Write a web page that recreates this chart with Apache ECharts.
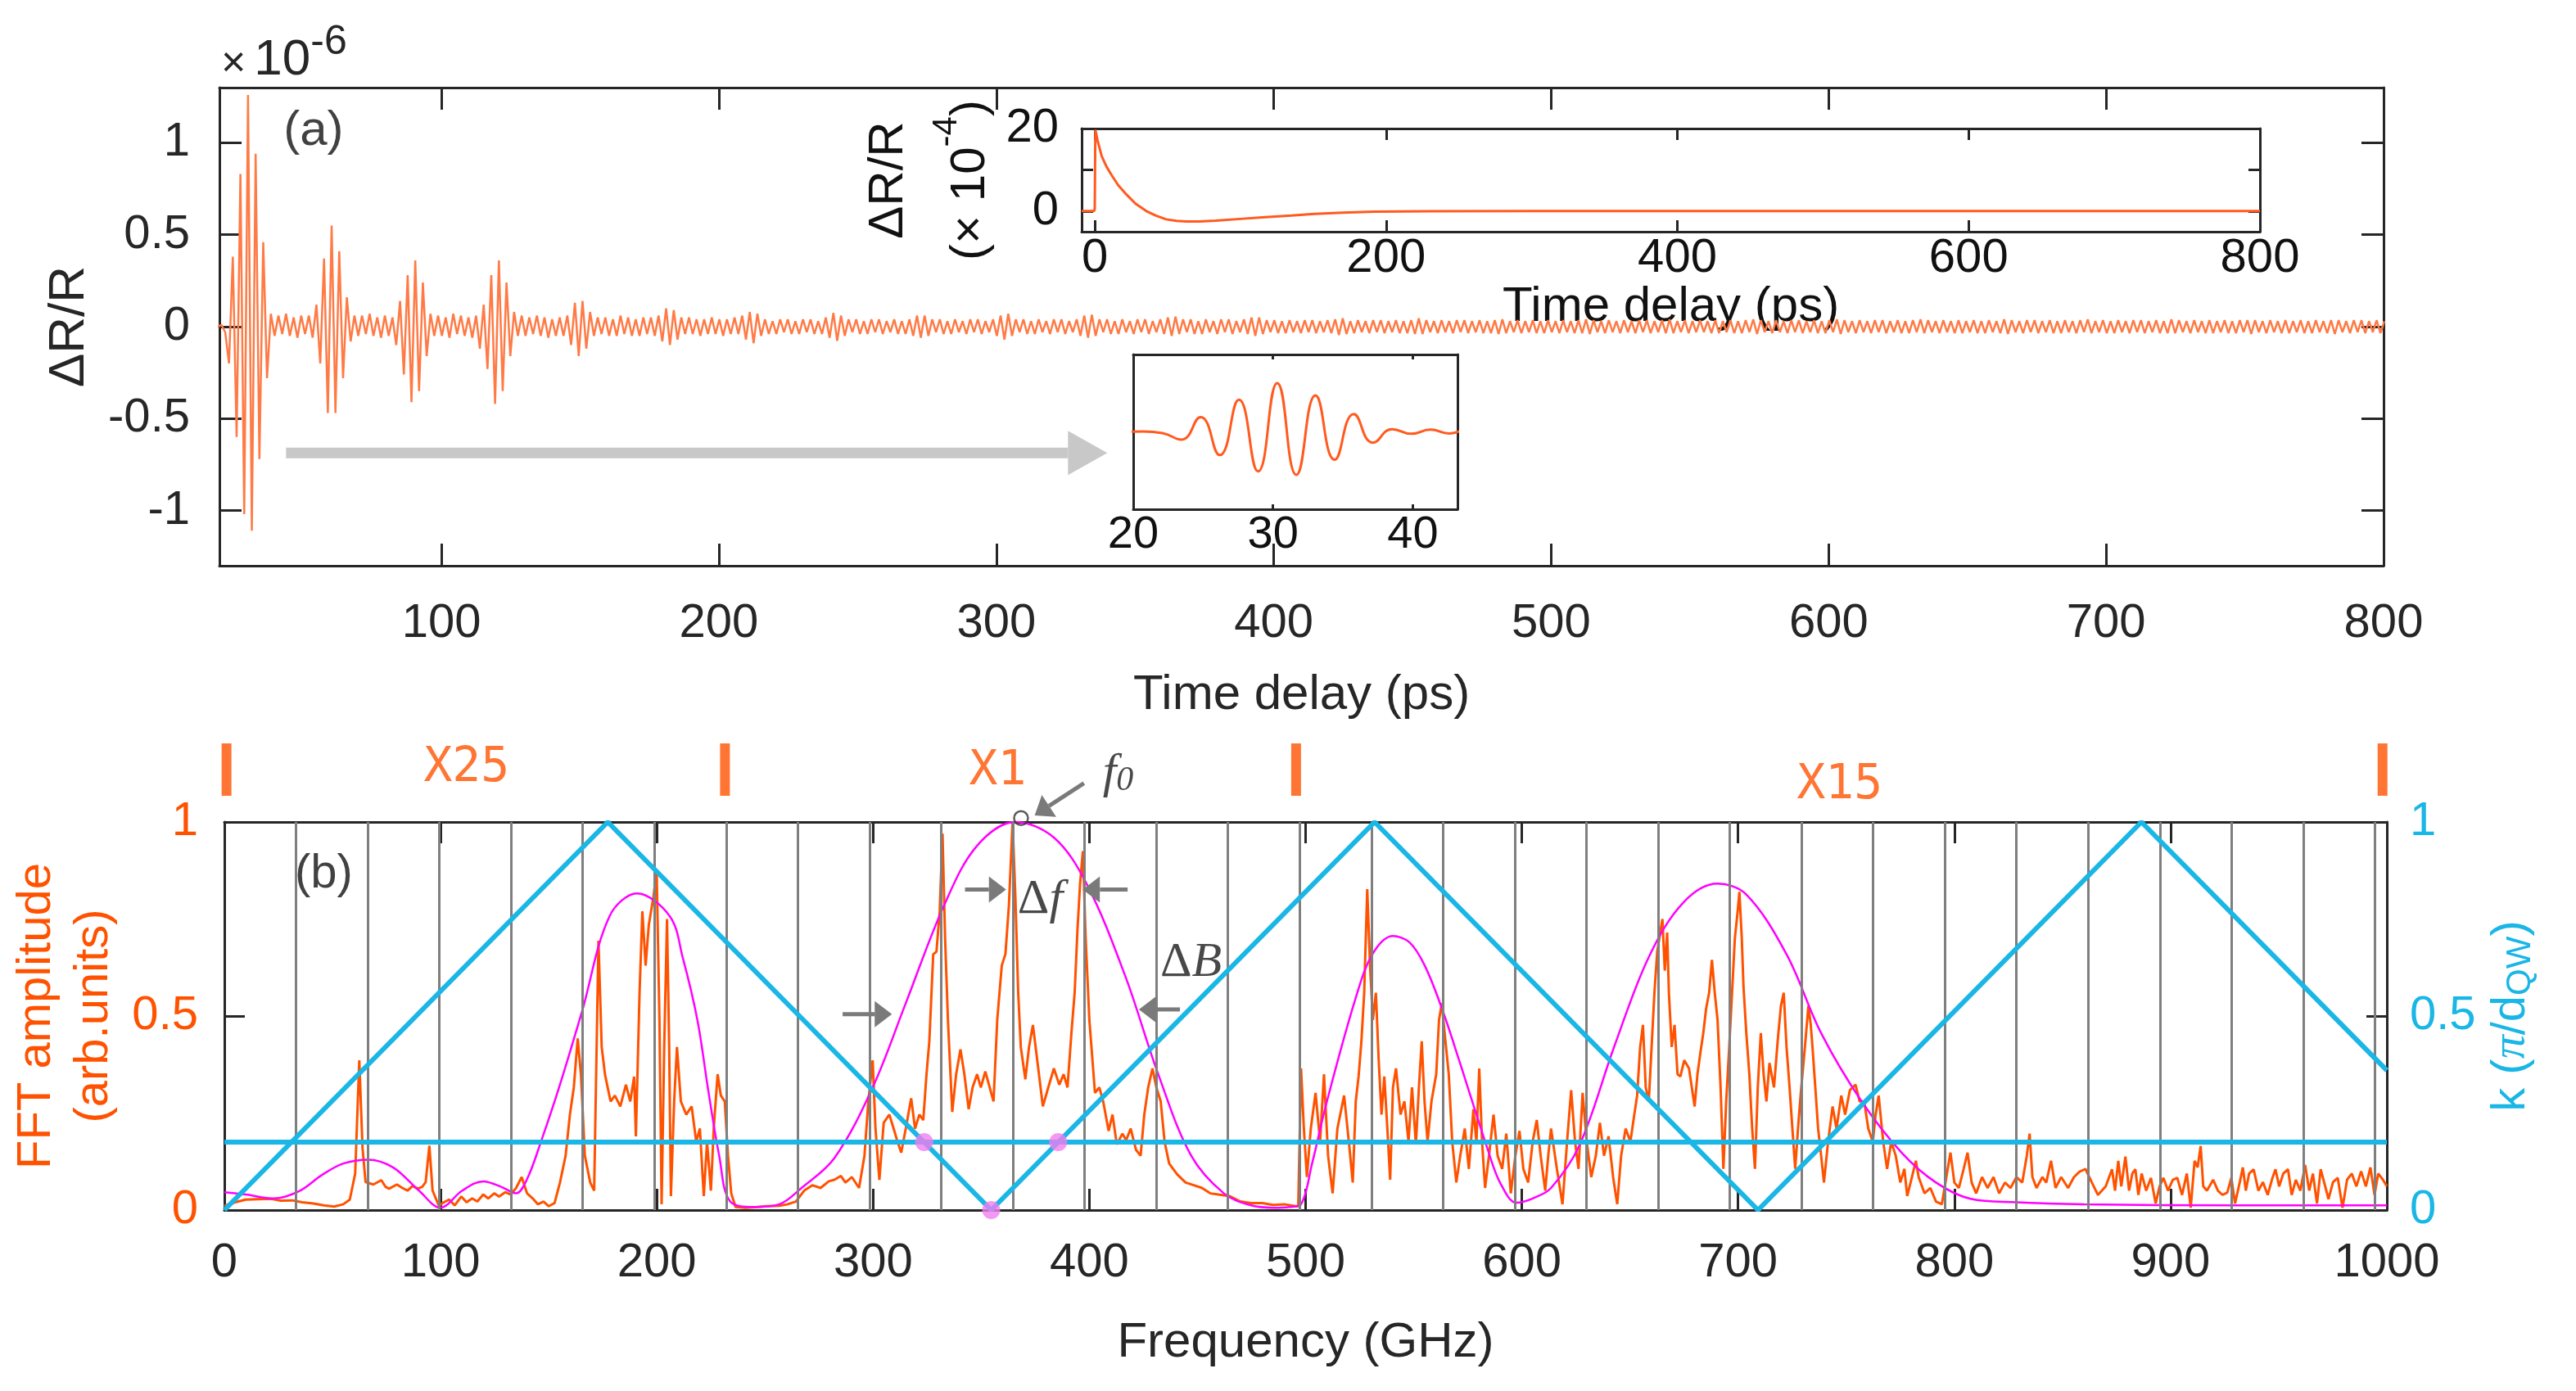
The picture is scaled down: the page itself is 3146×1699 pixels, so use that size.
<!DOCTYPE html>
<html>
<head>
<meta charset="utf-8">
<title>Pump-probe trace and FFT</title>
<script src="https://cdn.jsdelivr.net/npm/echarts@6.0.0/dist/echarts.min.js"></script>
<style>
html, body { margin: 0; padding: 0; background: #fff; }
#content { width: 3146px; height: 1699px; }
</style>
</head>
<body>
<div id="content"></div>
<script>
// ---------- data ----------

// panel (a): dR/R (x1e-6), one value per half period of the oscillation
var traceStart = 19.34; // ps
var traceStep = 1.37;   // ps
var traceVals = [
    0, 0.01, -0.03, -0.2, 0.38, -0.6, 0.83, -1.02, 1.26, -1.11,
    0.94, -0.72, 0.46, -0.28, 0.07, -0.05, 0.06, -0.04, 0.07, -0.05,
    0.05, -0.06, 0.06, -0.04, 0.06, -0.06, 0.12, -0.2, 0.37, -0.47,
    0.55, -0.47, 0.41, -0.28, 0.16, -0.08, 0.06, -0.05, 0.06, -0.04,
    0.07, -0.05, 0.05, -0.06, 0.06, -0.05, 0.05, -0.1, 0.14, -0.26,
    0.28, -0.41, 0.36, -0.35, 0.24, -0.16, 0.07, -0.05, 0.06, -0.05,
    0.05, -0.06, 0.07, -0.04, 0.06, -0.05, 0.05, -0.06, 0.06, -0.12,
    0.12, -0.23, 0.28, -0.42, 0.36, -0.35, 0.24, -0.16, 0.08, -0.05,
    0.06, -0.05, 0.05, -0.04, 0.06, -0.05, 0.05, -0.06, 0.04, -0.05,
    0.05, -0.05, 0.06, -0.1, 0.13, -0.16, 0.14, -0.12, 0.08, -0.05,
    0.05, -0.04, 0.05, -0.05, 0.04, -0.05, 0.06, -0.04, 0.05, -0.05,
    0.04, -0.05, 0.05, -0.04, 0.05, -0.05, 0.06, -0.08, 0.1, -0.1,
    0.09, -0.07, 0.05, -0.04, 0.05, -0.04, 0.04, -0.05, 0.04, -0.04,
    0.05, -0.04, 0.04, -0.05, 0.04, -0.04, 0.05, -0.04, 0.06, -0.07,
    0.08, -0.09, 0.07, -0.05, 0.04, -0.04, 0.03, -0.04, 0.04, -0.03,
    0.04, -0.04, 0.03, -0.04, 0.04, -0.03, 0.04, -0.04, 0.03, -0.04,
    0.05, -0.06, 0.075, -0.077, 0.06, -0.05, 0.04, -0.03, 0.04, -0.04,
    0.03, -0.04, 0.04, -0.03, 0.04, -0.04, 0.03, -0.03, 0.04, -0.04,
    0.03, -0.04, 0.04, -0.05, 0.06, -0.06, 0.06, -0.05, 0.04, -0.03,
    0.04, -0.04, 0.03, -0.04, 0.04, -0.03, 0.03, -0.04, 0.04, -0.03,
    0.04, -0.04, 0.03, -0.03, 0.04, -0.05, 0.06, -0.07, 0.07, -0.05,
    0.04, -0.03, 0.04, -0.04, 0.03, -0.04, 0.04, -0.03, 0.03, -0.04,
    0.04, -0.03, 0.04, -0.04, 0.03, -0.03, 0.04, -0.05, 0.06, -0.06,
    0.065, -0.05, 0.04, -0.03, 0.04, -0.04, 0.03, -0.04, 0.04, -0.03,
    0.03, -0.04, 0.04, -0.03, 0.04, -0.04, 0.03, -0.03, 0.04, -0.04,
    0.05, -0.05, 0.055, -0.04, 0.04, -0.03, 0.04, -0.04, 0.03, -0.04,
    0.04, -0.03, 0.03, -0.04, 0.04, -0.03, 0.04, -0.04, 0.03, -0.03,
    0.04, -0.04, 0.05, -0.05, 0.05, -0.04, 0.035, -0.03, 0.035, -0.035,
    0.03, -0.035, 0.035, -0.03, 0.03, -0.035, 0.035, -0.03, 0.035, -0.035,
    0.03, -0.03, 0.035, -0.035, 0.04, -0.045, 0.045, -0.04, 0.03, -0.035,
    0.035, -0.03, 0.03, -0.035, 0.035, -0.03, 0.035, -0.035, 0.03, -0.03,
    0.035, -0.035, 0.03, -0.035, 0.035, -0.04, 0.045, -0.04, 0.035, -0.03,
    0.03, -0.035, 0.035, -0.03, 0.03, -0.035, 0.035, -0.03, 0.035, -0.035,
    0.03, -0.03, 0.035, -0.035, 0.03, -0.035, 0.035, -0.04, 0.04, -0.035,
    0.03, -0.03, 0.035, -0.035, 0.03, -0.03, 0.035, -0.035, 0.03, -0.035,
    0.035, -0.03, 0.03, -0.035, 0.035, -0.03, 0.03, -0.035, 0.035, -0.035,
    0.04, -0.04, 0.035, -0.03, 0.03, -0.035, 0.035, -0.03, 0.03, -0.035,
    0.035, -0.03, 0.03, -0.035, 0.035, -0.03, 0.035, -0.035, 0.03, -0.03,
    0.035, -0.035, 0.04, -0.035, 0.03, -0.03, 0.035, -0.035, 0.03, -0.03,
    0.035, -0.03, 0.03, -0.035, 0.035, -0.035, 0.03, -0.03, 0.035, -0.035,
    0.03, -0.035, 0.035, -0.03, 0.04, -0.04, 0.035, -0.03, 0.03, -0.035,
    0.035, -0.03, 0.03, -0.035, 0.035, -0.03, 0.035, -0.035, 0.03, -0.03,
    0.035, -0.035, 0.03, -0.035, 0.035, -0.03, 0.04, -0.04, 0.035, -0.03,
    0.03, -0.035, 0.035, -0.03, 0.03, -0.035, 0.035, -0.03, 0.035, -0.035,
    0.03, -0.03, 0.035, -0.035, 0.03, -0.035, 0.035, -0.03, 0.04, -0.035,
    0.035, -0.03, 0.03, -0.035, 0.035, -0.03, 0.03, -0.035, 0.035, -0.035,
    0.03, -0.03, 0.035, -0.035, 0.03, -0.035, 0.035, -0.03, 0.03, -0.035,
    0.04, -0.04, 0.035, -0.03, 0.03, -0.035, 0.035, -0.03, 0.035, -0.035,
    0.03, -0.03, 0.035, -0.035, 0.03, -0.035, 0.035, -0.03, 0.03, -0.035,
    0.035, -0.03, 0.04, -0.035, 0.03, -0.03, 0.035, -0.035, 0.03, -0.035,
    0.035, -0.03, 0.03, -0.035, 0.035, -0.03, 0.035, -0.035, 0.03, -0.03,
    0.035, -0.035, 0.03, -0.035, 0.04, -0.035, 0.035, -0.03, 0.03, -0.035,
    0.035, -0.03, 0.03, -0.035, 0.035, -0.035, 0.03, -0.03, 0.035, -0.035,
    0.03, -0.035, 0.035, -0.03, 0.035, -0.04, 0.035, -0.03, 0.03, -0.035,
    0.035, -0.03, 0.03, -0.035, 0.035, -0.035, 0.03, -0.03, 0.035, -0.035,
    0.03, -0.035, 0.035, -0.03, 0.03, -0.035, 0.035, -0.04, 0.035, -0.03,
    0.03, -0.035, 0.035, -0.03, 0.035, -0.035, 0.03, -0.03, 0.035, -0.035,
    0.03
];

// inset of panel (a): full transient, dR/R (x1e-4)
var decayT = [-9, -0.5, 0, 0.4, 2, 4.8, 8, 11.6, 16, 21.8, 28, 35.4, 42, 49, 56, 62.7, 72, 83, 100, 117, 135, 151, 170, 192, 230, 300, 400, 500, 600, 700, 800];
var decayV = [0, 0, 0.5, 19.7, 17, 13.3, 10.8, 8.7, 6.3, 4, 1.8, 0, -1.1, -2, -2.35, -2.5, -2.5, -2.3, -1.9, -1.5, -1.1, -0.7, -0.4, -0.15, -0.05, 0, 0, 0, 0, 0, 0];

// panel (b): FFT amplitude, [GHz, a.u.] for the three scaled windows
var fftX25 = [
    [0, 0.011], [5, 0.02], [9.8, 0.027], [15, 0.028], [21.8, 0.029], [26, 0.024], [31.5, 0.025], [36, 0.02],
    [41.2, 0.017], [46, 0.012], [50.8, 0.009], [55, 0.015], [58, 0.027], [60.5, 0.094], [62.4, 0.386], [63.9, 0.16],
    [65.3, 0.072], [68.9, 0.066], [72.6, 0.077], [74.5, 0.06], [76.2, 0.055], [79.8, 0.066], [82, 0.058], [84.7, 0.05],
    [87, 0.062], [89.5, 0.055], [91.5, 0.06], [93.1, 0.072], [94.8, 0.166], [96.3, 0.05], [99.2, 0.011], [101.5, 0.02],
    [104, 0.027], [106.5, 0.012], [109.6, 0.035], [112, 0.02], [114.6, 0.03], [117, 0.022], [119.7, 0.04], [122, 0.03],
    [124.8, 0.043], [127, 0.035], [129.9, 0.046], [132.5, 0.04], [134.9, 0.057], [137.5, 0.085], [140, 0.043], [142.6, 0.03],
    [145, 0.015], [147.6, 0.022], [150, 0.01], [152.7, 0.018], [155.2, 0.071], [157.8, 0.14], [159.8, 0.246], [161.6, 0.316],
    [163.4, 0.442], [164.9, 0.35], [166.7, 0.14], [169.2, 0.071], [171, 0.05], [173, 0.694], [174.5, 0.42], [176, 0.35],
    [178.6, 0.28], [180.6, 0.295], [183.1, 0.267], [185.7, 0.323], [187.7, 0.28], [189.5, 0.344], [190.3, 0.19], [192, 0.56],
    [193.3, 0.77], [194.8, 0.63], [196.3, 0.736], [198.4, 0.806], [199.9, 0.876], [201.2, 0.49], [202.2, 0.015], [203.4, 0.42],
    [204.7, 0.75], [205.7, 0.42], [206.5, 0.036], [208, 0.28], [209.3, 0.42], [211.1, 0.28], [213.6, 0.246], [216.1, 0.267],
    [218.2, 0.176], [219.9, 0.21], [221.7, 0.036], [223.2, 0.176], [225, 0.05], [226.3, 0.21], [228.1, 0.35], [229.6, 0.295],
    [231.4, 0.28], [232.9, 0.14], [234.4, 0.043]
];
var fftX1 = [
    [236.4, 0.008], [241, 0.006], [246.6, 0.008], [251, 0.01], [256.7, 0.011], [260.5, 0.015], [264.3, 0.022], [268.1, 0.05],
    [271.9, 0.064], [275.7, 0.057], [279.5, 0.074], [282.1, 0.078], [285.1, 0.088], [287.2, 0.071], [290.2, 0.085], [293.5, 0.057],
    [296, 0.14], [297.8, 0.28], [299.8, 0.386], [301.1, 0.21], [302.9, 0.078], [304.9, 0.225], [307.5, 0.246], [309.5, 0.21],
    [311.3, 0.176], [313, 0.148], [315.1, 0.21], [317.6, 0.288], [319.4, 0.21], [321.4, 0.246], [323.2, 0.232], [324.7, 0.35],
    [326, 0.435], [327.8, 0.659], [329.3, 0.666], [330.8, 0.77], [332.1, 0.97], [333.3, 0.7], [334.6, 0.49], [336.6, 0.253],
    [338.4, 0.35], [340.4, 0.414], [342.2, 0.35], [344.2, 0.26], [346, 0.316], [348.1, 0.35], [349.8, 0.316], [351.9, 0.357],
    [353.9, 0.316], [355.7, 0.28], [357.4, 0.49], [359.5, 0.63], [361.2, 0.66], [362.8, 0.785], [364.5, 1.0], [365.8, 0.806],
    [367.1, 0.56], [368.3, 0.42], [370.4, 0.337], [372.1, 0.42], [373.9, 0.477], [375.9, 0.386], [378.5, 0.267], [381, 0.316],
    [383.6, 0.365], [386.1, 0.323], [388.1, 0.35], [389.9, 0.316], [391.7, 0.456], [393.2, 0.56], [394.5, 0.722], [395.7, 0.84],
    [397, 0.925], [398.3, 0.7], [400, 0.49], [402.6, 0.302], [404.6, 0.316], [406.4, 0.28], [408.9, 0.204], [410.7, 0.246],
    [412.7, 0.169], [415.3, 0.197], [417, 0.18], [419.1, 0.21], [421.6, 0.155], [423.7, 0.14], [425.4, 0.246], [427.2, 0.316],
    [429.2, 0.365], [431, 0.316], [433, 0.28], [434.8, 0.176], [436.9, 0.12], [440.6, 0.092], [444.5, 0.071], [448.3, 0.064],
    [452.1, 0.057], [455.9, 0.043], [459.7, 0.04], [464.8, 0.036], [469.8, 0.022], [474.9, 0.018], [480, 0.018], [485.1, 0.013],
    [490.1, 0.015], [495.2, 0.01]
];
var fftX15 = [
    [496.6, 0.01], [497.9, 0.365], [499.2, 0.21], [500.6, 0.085], [502.4, 0.21], [504.6, 0.302], [506.7, 0.176], [508.5, 0.35],
    [510.4, 0.14], [512.5, 0.043], [514.7, 0.21], [517.8, 0.295], [520, 0.176], [521.8, 0.071], [523.2, 0.28], [524.5, 0.344],
    [525.8, 0.435], [527.1, 0.56], [528.5, 0.827], [529.8, 0.63], [531.1, 0.49], [532.5, 0.56], [533.8, 0.386], [535.1, 0.246],
    [536.4, 0.344], [537.8, 0.21], [539.1, 0.078], [540.4, 0.316], [541.8, 0.365], [543.9, 0.246], [545.7, 0.28], [547.6, 0.176],
    [549.2, 0.316], [551, 0.169], [552.4, 0.316], [553.7, 0.435], [555, 0.28], [556.4, 0.176], [558.2, 0.28], [560.4, 0.35],
    [561.7, 0.49], [563, 0.533], [564.3, 0.456], [566.2, 0.35], [567.8, 0.176], [569.7, 0.071], [571.5, 0.14], [573.6, 0.21],
    [575.5, 0.106], [577.6, 0.26], [579, 0.176], [580.3, 0.365], [581.6, 0.176], [583, 0.057], [584.8, 0.14], [586.9, 0.246],
    [588.8, 0.14], [590.9, 0.106], [592.8, 0.197], [594.9, 0.043], [597, 0.14], [598.9, 0.204], [600.7, 0.106], [602.9, 0.071],
    [605, 0.176], [606.9, 0.232], [608.7, 0.14], [610.8, 0.05], [612.2, 0.14], [613.5, 0.21], [616.2, 0.106], [618.8, 0.015],
    [620.9, 0.176], [622.8, 0.309], [624.6, 0.176], [626.2, 0.106], [628.1, 0.302], [630, 0.176], [632.1, 0.085], [634.2, 0.14],
    [636.1, 0.225], [638, 0.14], [640.1, 0.19], [642.2, 0.085], [644.1, 0.015], [645.9, 0.14], [648, 0.21], [650.2, 0.176],
    [652, 0.246], [653.3, 0.295], [654.7, 0.42], [656, 0.477], [657.3, 0.316], [658.7, 0.28], [660, 0.42], [661.3, 0.56],
    [662.6, 0.666], [664, 0.715], [665, 0.75], [666.1, 0.617], [667.2, 0.715], [668, 0.56], [669.3, 0.42], [670.6, 0.477],
    [672, 0.35], [673.3, 0.344], [675.1, 0.386], [677.3, 0.365], [678.6, 0.316], [679.9, 0.267], [681.2, 0.35], [682.6, 0.407],
    [683.9, 0.456], [685.2, 0.519], [686.6, 0.56], [687.9, 0.645], [689.2, 0.56], [690.5, 0.49], [691.9, 0.316], [693.2, 0.106],
    [694.5, 0.28], [695.9, 0.42], [697.2, 0.56], [698.5, 0.7], [699.8, 0.77], [700.6, 0.82], [701.7, 0.7], [702.5, 0.575],
    [703.8, 0.456], [705.2, 0.35], [706.5, 0.21], [707.8, 0.106], [709.1, 0.316], [710.5, 0.456], [711.8, 0.35], [713.1, 0.28],
    [714.5, 0.379], [716.6, 0.316], [718.4, 0.442], [719.8, 0.526], [721.1, 0.56], [722.4, 0.42], [723.8, 0.316], [725.1, 0.21],
    [726.4, 0.106], [727.7, 0.21], [729.1, 0.309], [730.9, 0.42], [732.5, 0.526], [733.6, 0.477], [734.4, 0.42], [735.7, 0.316],
    [737, 0.21], [738.4, 0.14], [739.7, 0.071], [741.6, 0.176], [743.7, 0.267], [745.5, 0.21], [747.7, 0.295], [749.5, 0.246],
    [751.7, 0.309], [754.3, 0.323], [756.2, 0.28], [758.3, 0.28], [760.2, 0.21], [762.3, 0.176], [763.6, 0.246], [765, 0.295],
    [767.1, 0.176], [768.9, 0.106], [770.8, 0.176], [772.9, 0.14], [775, 0.071], [776.9, 0.106], [778.2, 0.036], [780.4, 0.085],
    [782.2, 0.127], [783.5, 0.085], [786.2, 0.043], [788.9, 0.057], [791.5, 0.022], [794.2, 0.015], [796.3, 0.085], [798.2, 0.148],
    [800, 0.071], [802.1, 0.057], [804.3, 0.106], [806.1, 0.148], [808, 0.071], [810.1, 0.043], [812.8, 0.085], [815.4, 0.057],
    [818.1, 0.085], [820.7, 0.043], [823.4, 0.071], [826, 0.057], [828.7, 0.085], [831.4, 0.071], [833.5, 0.14], [834.8, 0.197],
    [836.1, 0.085], [838, 0.057], [840.7, 0.085], [842.5, 0.071], [844.7, 0.127], [846.8, 0.057], [849.4, 0.085], [852.6, 0.057],
    [855.3, 0.085], [857.9, 0.099], [860.6, 0.106], [863.5, 0.072], [866.4, 0.039], [870, 0.061], [872.9, 0.105], [874.3, 0.05],
    [875.8, 0.127], [877.2, 0.061], [879.1, 0.138], [880.8, 0.05], [882.3, 0.094], [883.7, 0.105], [885.1, 0.039], [886.6, 0.094],
    [888.7, 0.05], [890.9, 0.083], [893.1, 0.017], [894.9, 0.061], [896.7, 0.083], [898.8, 0.05], [901, 0.078], [903.1, 0.083],
    [905.3, 0.039], [907.5, 0.094], [909.3, 0.006], [911.1, 0.127], [912.5, 0.11], [913.9, 0.165], [915.1, 0.061], [916.8, 0.05],
    [919.7, 0.078], [921.9, 0.05], [924, 0.039], [926.2, 0.045], [928.1, 0.083], [929.8, 0.017], [932, 0.072], [933.4, 0.11],
    [934.8, 0.05], [936.3, 0.094], [938.4, 0.105], [940.6, 0.05], [942.7, 0.072], [944.9, 0.039], [947.1, 0.083], [948.5, 0.105],
    [950.2, 0.061], [952.1, 0.094], [954.3, 0.105], [956, 0.039], [957.9, 0.078], [960, 0.05], [962.2, 0.116], [964.1, 0.05],
    [965.8, 0.094], [967.7, 0.017], [969.4, 0.105], [971.5, 0.061], [973, 0.028], [975.1, 0.072], [977.3, 0.083], [979.5, 0.006],
    [981.6, 0.078], [983.8, 0.094], [985.9, 0.061], [988.1, 0.1], [990.3, 0.061], [992.4, 0.11], [994.3, 0.039], [996, 0.094],
    [998.2, 0.078], [1000, 0.061]
];

// magenta envelope
var envPts = [
    [0, 0.046], [10, 0.04], [23, 0.03], [35, 0.05], [45, 0.09], [55, 0.12], [66.5, 0.13], [78, 0.11], [90, 0.05],
    [99.9, 0.006], [110, 0.05], [119.7, 0.074], [128, 0.06], [134.9, 0.043], [140, 0.08], [146.4, 0.176], [155, 0.32],
    [165.4, 0.512], [178.1, 0.757], [190.8, 0.816], [206, 0.757], [212, 0.65], [218.7, 0.491], [224, 0.3], [228.8, 0.141],
    [233.9, 0.022], [245, 0.008], [256.7, 0.015], [266.9, 0.057], [282.1, 0.134], [299.8, 0.316], [315.1, 0.533],
    [332.8, 0.785], [348.1, 0.939], [365.8, 1.0], [383.6, 0.96], [398.8, 0.84], [416.6, 0.603], [431.8, 0.351],
    [447, 0.141], [462.2, 0.043], [474.9, 0.012], [485, 0.006], [492.7, 0.008], [497.9, 0.015], [503, 0.12],
    [509.9, 0.281], [523.2, 0.547], [531, 0.66], [540.4, 0.706], [548, 0.69], [555, 0.631], [563, 0.52], [571, 0.386],
    [584.3, 0.155], [590, 0.07], [597.5, 0.019], [605, 0.03], [613.5, 0.057], [626.8, 0.169], [642.7, 0.421],
    [658.7, 0.652], [674.6, 0.792], [690.5, 0.841], [703.8, 0.813], [722.4, 0.659], [738.4, 0.456], [757, 0.281],
    [775.6, 0.148], [791.5, 0.071], [807.5, 0.029], [828.7, 0.02], [860, 0.015], [930, 0.012], [1000, 0.012]
];

// wave vector k (pi/d_QW), folded dispersion and the probe level
var kBand = [[0, 0], [177.3, 1], [354.6, 0], [531.9, 1], [709.2, 0], [886.5, 1], [1000, 0.36]];
var kLevel = [[0, 0.175], [1000, 0.175]];
var kDots = [[323.6, 0.175], [385.6, 0.175], [354.6, 0]];
var f0Point = [[368.4, 1.01]];

// vertical comb lines (GHz)
var combLines = [33.15, 66.3, 99.45, 132.6, 165.75, 198.9, 232.05, 265.2, 298.35, 331.5, 364.65, 397.8, 430.95, 464.1, 497.25,
    530.4, 563.55, 596.7, 629.85, 663, 696.15, 729.3, 762.45, 795.6, 828.75, 861.9, 895.05, 928.2, 961.35, 994.5];

// tick values
var topTicks = [100, 200, 300, 400, 500, 600, 700, 800];
var topYTicks = [-1, -0.5, 0, 0.5, 1];
var decayXTicks = [0, 200, 400, 600, 800];
var decayYTicks = [0, 10, 20];
var decayYLabels = [0, 20];
var zoomXTicks = [20, 30, 40];

// annotations, in data units of their panel
var topNotes = [[53.9, 1.06, '(a)']];
var topArrows = [[44, -0.687, 340, -0.687]];
var fftNotes = [
    [46, 0.866, '{t|(b)}'],
    [413.3, 1.124, '{i|f}{s|0}'],
    [377.3, 0.8, '{d|Δ}{i|f}'],
    [447, 0.636, '{d|Δ}{i|B}']
];
var fftArrows = [
    [397.5, 1.1, 374.7, 1.017],
    [342.5, 0.826, 361.5, 0.826],
    [417.7, 0.826, 396.9, 0.826],
    [285.9, 0.505, 308.7, 0.505],
    [441.9, 0.517, 422.9, 0.517]
];
var regionBars = [[1, 1.135], [231.5, 1.135], [495.6, 1.135], [998, 1.135]];
var regionNotes = [[112, 1.138, 'X25'], [357.6, 1.128, 'X1'], [747, 1.093, 'X15']];

// ---------- chart ----------
var FONT = 'Liberation Sans';
var SERIF = 'Liberation Serif';
var ink = '#262626';
var traceColor = '#ff7a45';
var fftColor = '#ff5200';
var cyan = '#19b6e6';

var tracePts = traceVals.map(function (v, i) {
    return [traceStart + i * traceStep, v];
});
var zoomPts = tracePts.filter(function (p) {
    return p[0] > 16 && p[0] < 47;
});
var decayPts = decayT.map(function (t, i) {
    return [t, decayV[i]];
});

function boxLine(w) {
    return { show: true, onZero: false, lineStyle: { color: ink, width: w } };
}

function ticks(values, len, w) {
    return { show: true, inside: true, length: len, customValues: values, lineStyle: { color: ink, width: w } };
}

function plainNumber(v) {
    return String(v);
}

// arrow drawn from (x1,y1) to the tip (x2,y2)
function arrowRender(color, shaft, headLen, headWid) {
    return function (params, api) {
        var a = api.coord([api.value(0), api.value(1)]);
        var b = api.coord([api.value(2), api.value(3)]);
        var dx = b[0] - a[0];
        var dy = b[1] - a[1];
        var len = Math.sqrt(dx * dx + dy * dy);
        var ux = dx / len;
        var uy = dy / len;
        var bx = b[0] - ux * headLen;
        var by = b[1] - uy * headLen;
        var px = -uy * headWid / 2;
        var py = ux * headWid / 2;
        return {
            type: 'group',
            children: [{
                type: 'line',
                shape: { x1: a[0], y1: a[1], x2: bx, y2: by },
                style: { stroke: color, lineWidth: shaft }
            }, {
                type: 'polygon',
                shape: { points: [[b[0], b[1]], [bx + px, by + py], [bx - px, by - py]] },
                style: { fill: color }
            }]
        };
    };
}

function noteData(list) {
    return list.map(function (n) {
        return { value: [n[0], n[1]], name: n[2] };
    });
}

var noteRich = {
    t: { fontFamily: FONT, fontSize: 58, color: '#111' },
    i: { fontFamily: SERIF, fontStyle: 'italic', fontSize: 60, lineHeight: 60, color: '#1a1a1a' },
    s: { fontFamily: SERIF, fontStyle: 'italic', fontSize: 42, lineHeight: 36, verticalAlign: 'bottom', color: '#1a1a1a' },
    d: { fontFamily: SERIF, fontSize: 60, lineHeight: 60, color: '#1a1a1a' }
};

var myChart = echarts.init(document.getElementById('content'), null, { renderer: 'canvas' });

myChart.setOption({
    animation: false,
    backgroundColor: '#fff',
    textStyle: { fontFamily: FONT },
    grid: [
        { left: 268, top: 107, width: 2643, height: 584, outerBoundsMode: 'none' },
        { left: 1321, top: 157, width: 1439, height: 126, show: true, backgroundColor: '#fff', borderWidth: 0, outerBoundsMode: 'none' },
        { left: 1384, top: 433, width: 396, height: 189, show: true, backgroundColor: '#fff', borderWidth: 0, outerBoundsMode: 'none' },
        { left: 274, top: 1004, width: 2641, height: 474, outerBoundsMode: 'none' }
    ],
    xAxis: [
        {
            gridIndex: 0, type: 'value', min: 20, max: 800, position: 'bottom',
            axisLine: boxLine(3), axisTick: ticks(topTicks, 27, 3),
            axisLabel: { customValues: topTicks, margin: 42, fontSize: 58, color: ink },
            splitLine: { show: false },
            name: 'Time delay (ps)', nameLocation: 'middle', nameGap: 128,
            nameTextStyle: { fontSize: 60, color: ink }
        },
        {
            gridIndex: 0, type: 'value', min: 20, max: 800, position: 'top',
            axisLine: boxLine(3), axisTick: ticks(topTicks, 27, 3),
            axisLabel: { show: false }, splitLine: { show: false }
        },
        {
            gridIndex: 1, type: 'value', min: -9, max: 800, position: 'bottom',
            axisLine: boxLine(3), axisTick: ticks(decayXTicks, 14, 3),
            axisLabel: { customValues: decayXTicks, margin: 4, fontSize: 58, color: '#111' },
            splitLine: { show: false },
            name: 'Time delay (ps)', nameLocation: 'middle', nameGap: 44,
            nameTextStyle: { fontSize: 60, color: '#111' }
        },
        {
            gridIndex: 1, type: 'value', min: -9, max: 800, position: 'top',
            axisLine: boxLine(3), axisTick: ticks(decayXTicks, 14, 3),
            axisLabel: { show: false }, splitLine: { show: false }
        },
        {
            gridIndex: 2, type: 'value', min: 20, max: 43.2, position: 'bottom',
            axisLine: boxLine(3), axisTick: ticks(zoomXTicks, 6, 3),
            axisLabel: { customValues: zoomXTicks, margin: 4, fontSize: 56, color: '#111' },
            splitLine: { show: false }
        },
        {
            gridIndex: 2, type: 'value', min: 20, max: 43.2, position: 'top',
            axisLine: boxLine(3), axisTick: ticks(zoomXTicks, 6, 3),
            axisLabel: { show: false }, splitLine: { show: false }
        },
        {
            gridIndex: 3, type: 'value', min: 0, max: 1000, interval: 100, position: 'bottom',
            axisLine: boxLine(3),
            axisTick: { show: true, inside: true, length: 26, lineStyle: { color: ink, width: 3 } },
            axisLabel: { margin: 36, fontSize: 58, color: ink, formatter: plainNumber },
            splitLine: { show: false },
            name: 'Frequency (GHz)', nameLocation: 'middle', nameGap: 132,
            nameTextStyle: { fontSize: 60, color: ink }
        },
        {
            gridIndex: 3, type: 'value', min: 0, max: 1000, interval: 100, position: 'top',
            axisLine: boxLine(3),
            axisTick: { show: true, inside: true, length: 26, lineStyle: { color: ink, width: 3 } },
            axisLabel: { show: false }, splitLine: { show: false }
        }
    ],
    yAxis: [
        {
            gridIndex: 0, type: 'value', min: -1.3, max: 1.3, position: 'left',
            axisLine: boxLine(3), axisTick: ticks(topYTicks, 27, 3),
            axisLabel: { customValues: topYTicks, margin: 36, fontSize: 58, color: ink },
            splitLine: { show: false },
            name: 'ΔR/R', nameLocation: 'middle', nameRotate: 90, nameGap: 152,
            nameTextStyle: { fontSize: 62, color: ink }
        },
        {
            gridIndex: 0, type: 'value', min: -1.3, max: 1.3, position: 'right',
            axisLine: boxLine(3), axisTick: ticks(topYTicks, 27, 3),
            axisLabel: { show: false }, splitLine: { show: false }
        },
        {
            gridIndex: 0, type: 'value', min: -1.3, max: 1.3, position: 'left',
            axisLine: { show: false }, axisTick: { show: false }, axisLabel: { show: false }, splitLine: { show: false },
            name: '{a|×}{b|10}{c|-6}{h| }', nameLocation: 'end', nameGap: 2,
            nameTextStyle: {
                align: 'left', verticalAlign: 'bottom',
                rich: {
                    a: { fontSize: 52, lineHeight: 60, verticalAlign: 'bottom', color: ink, padding: [0, 10, 0, 2] },
                    b: { fontSize: 62, lineHeight: 60, verticalAlign: 'bottom', color: ink },
                    c: { fontSize: 50, lineHeight: 48, verticalAlign: 'top', color: ink },
                    h: { fontSize: 8, lineHeight: 78, color: ink }
                }
            }
        },
        {
            gridIndex: 1, type: 'value', min: -5, max: 20, position: 'left',
            axisLine: boxLine(3), axisTick: ticks(decayYTicks, 14, 3),
            axisLabel: { customValues: decayYLabels, margin: 28, fontSize: 58, color: '#111' },
            splitLine: { show: false },
            name: '{a|ΔR/R}\n{a|(× 10}{c|-4}{a|)}', nameLocation: 'middle', nameRotate: 90, nameGap: 86,
            nameTextStyle: {
                rich: {
                    a: { fontSize: 60, lineHeight: 100, color: '#111' },
                    c: { fontSize: 42, lineHeight: 70, verticalAlign: 'top', color: '#111' }
                }
            }
        },
        {
            gridIndex: 1, type: 'value', min: -5, max: 20, position: 'right',
            axisLine: boxLine(3), axisTick: ticks(decayYTicks, 14, 3),
            axisLabel: { show: false }, splitLine: { show: false }
        },
        {
            gridIndex: 2, type: 'value', min: -2, max: 2, position: 'left',
            axisLine: boxLine(3), axisTick: { show: false }, axisLabel: { show: false }, splitLine: { show: false }
        },
        {
            gridIndex: 2, type: 'value', min: -2, max: 2, position: 'right',
            axisLine: boxLine(3), axisTick: { show: false }, axisLabel: { show: false }, splitLine: { show: false }
        },
        {
            gridIndex: 3, type: 'value', min: 0, max: 1, interval: 0.5, position: 'left',
            axisLine: boxLine(3),
            axisTick: { show: true, inside: true, length: 25, lineStyle: { color: ink, width: 3 } },
            axisLabel: { margin: 32, fontSize: 58, color: fftColor },
            splitLine: { show: false },
            name: 'FFT amplitude\n(arb.units)', nameLocation: 'middle', nameRotate: 90, nameGap: 86,
            nameTextStyle: { fontSize: 58, lineHeight: 70, color: fftColor }
        },
        {
            gridIndex: 3, type: 'value', min: 0, max: 1, interval: 0.5, position: 'right',
            axisLine: boxLine(3),
            axisTick: { show: true, inside: true, length: 25, lineStyle: { color: ink, width: 3 } },
            axisLabel: { margin: 28, fontSize: 58, color: cyan },
            splitLine: { show: false },
            name: '{a|k (}{p|π}{a|/d}{s|QW}{a|)}', nameLocation: 'middle', nameRotate: 90, nameGap: 120,
            nameTextStyle: {
                rich: {
                    a: { fontSize: 58, lineHeight: 64, color: cyan },
                    p: { fontSize: 58, lineHeight: 64, fontStyle: 'italic', fontFamily: SERIF, color: cyan },
                    s: { fontSize: 42, lineHeight: 36, verticalAlign: 'bottom', color: cyan }
                }
            }
        }
    ],
    series: [
        // panel (a)
        {
            type: 'line', xAxisIndex: 0, yAxisIndex: 0, data: tracePts,
            showSymbol: false, symbol: 'none', sampling: 'none',
            lineStyle: { color: traceColor, width: 2.5 }, z: 2
        },
        {
            type: 'custom', xAxisIndex: 0, yAxisIndex: 0, data: topArrows,
            renderItem: arrowRender('#c8c8c8', 13, 48, 54), z: 3, silent: true
        },
        {
            type: 'scatter', xAxisIndex: 0, yAxisIndex: 0, data: noteData(topNotes),
            symbolSize: 0, clip: false, silent: true, z: 6,
            label: {
                show: true, position: 'inside', fontSize: 60, color: '#111',
                formatter: function (p) { return p.name; }
            }
        },
        // inset: transient
        {
            type: 'line', xAxisIndex: 2, yAxisIndex: 3, data: decayPts,
            showSymbol: false, symbol: 'none',
            lineStyle: { color: '#ff5a1f', width: 3 }, z: 4
        },
        // inset: zoom on the first echo
        {
            type: 'line', xAxisIndex: 4, yAxisIndex: 5, data: zoomPts,
            showSymbol: false, symbol: 'none', smooth: 0.5,
            lineStyle: { color: '#ff5a1f', width: 3 }, z: 4
        },
        // panel (b): comb lines
        {
            type: 'line', xAxisIndex: 6, yAxisIndex: 7, data: [[0, 0]],
            showSymbol: false, symbol: 'none', lineStyle: { width: 0 }, z: 1,
            markLine: {
                silent: true, symbol: ['none', 'none'], label: { show: false },
                lineStyle: { color: '#7f7f7f', width: 3, type: 'solid' },
                data: combLines.map(function (v) { return { xAxis: v }; })
            }
        },
        {
            type: 'line', xAxisIndex: 6, yAxisIndex: 7, data: fftX25.concat(fftX1, fftX15),
            showSymbol: false, symbol: 'none', sampling: 'none',
            lineStyle: { color: fftColor, width: 3 }, z: 3
        },
        {
            type: 'line', xAxisIndex: 6, yAxisIndex: 7, data: envPts,
            showSymbol: false, symbol: 'none', smooth: 0.35,
            lineStyle: { color: '#ff00ff', width: 2.5 }, z: 4
        },
        {
            type: 'line', xAxisIndex: 6, yAxisIndex: 8, data: kBand,
            showSymbol: false, symbol: 'none',
            lineStyle: { color: cyan, width: 6 }, z: 5
        },
        {
            type: 'line', xAxisIndex: 6, yAxisIndex: 8, data: kLevel,
            showSymbol: false, symbol: 'none',
            lineStyle: { color: cyan, width: 6 }, z: 5
        },
        {
            type: 'scatter', xAxisIndex: 6, yAxisIndex: 8, data: kDots,
            symbolSize: 22, clip: false, itemStyle: { color: '#f07ef0' }, z: 6
        },
        {
            type: 'scatter', xAxisIndex: 6, yAxisIndex: 7, data: f0Point,
            symbolSize: 17, clip: false, z: 6,
            itemStyle: { color: 'rgba(0,0,0,0)', borderColor: '#333', borderWidth: 2.5 }
        },
        {
            type: 'custom', xAxisIndex: 6, yAxisIndex: 7, data: fftArrows,
            renderItem: arrowRender('#7a7a7a', 5, 21, 32), z: 7, silent: true
        },
        {
            type: 'scatter', xAxisIndex: 6, yAxisIndex: 7, data: noteData(fftNotes),
            symbolSize: 0, clip: false, silent: true, z: 8,
            label: {
                show: true, position: 'inside', rich: noteRich,
                formatter: function (p) { return p.name; }
            }
        },
        {
            type: 'scatter', xAxisIndex: 6, yAxisIndex: 7, data: regionBars,
            symbol: 'rect', symbolSize: [12, 64], clip: false, silent: true,
            itemStyle: { color: fftColor }, z: 6
        },
        {
            type: 'scatter', xAxisIndex: 6, yAxisIndex: 7, data: noteData(regionNotes),
            symbolSize: 0, clip: false, silent: true, z: 6,
            label: {
                show: true, position: 'inside', fontFamily: 'DejaVu Sans Mono', fontSize: 58, color: fftColor,
                formatter: function (p) { return p.name; }
            }
        }
    ]
});
</script>
</body>
</html>
